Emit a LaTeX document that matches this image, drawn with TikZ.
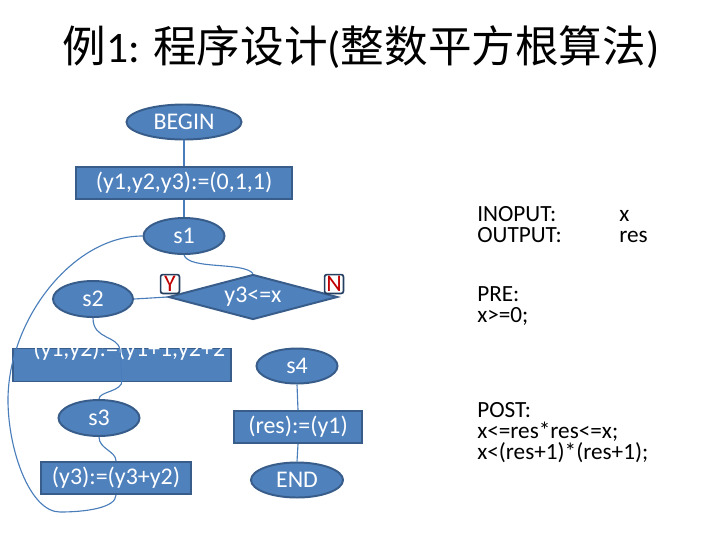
\documentclass[tikz,border=0pt]{standalone}
\usepackage{fontspec}
\setmainfont{Carlito}
\newfontfamily\cjk{Noto Sans CJK SC}
\usepackage{xcolor}
\usepackage{tikz}
\usetikzlibrary{shapes.geometric,positioning}
\definecolor{nodefill}{HTML}{4F81BD}
\definecolor{nodeline}{HTML}{385D8A}
\definecolor{flowline}{HTML}{4A7EBB}
\definecolor{tagline}{HTML}{243F60}
\definecolor{tagred}{HTML}{C00000}
\tikzstyle{term}=[ellipse, draw=nodeline, fill=nodefill, line width=1.4pt,
  text=white, inner sep=0pt]
\tikzstyle{proc}=[rectangle, draw=nodeline, fill=nodefill, line width=1.4pt,
  text=white, inner sep=0pt, minimum height=0.8cm]
\tikzstyle{cond}=[diamond, draw=nodeline, fill=nodefill, line width=1.4pt,
  text=white, inner sep=0pt, aspect=3.75]
\tikzstyle{flow}=[draw=flowline, line width=0.8pt]

\begin{document}
\begin{tikzpicture}[
  x=0.025cm, y=-0.025cm, font=\fontsize{17}{20}\selectfont,
  state/.style={term, minimum width=2.025cm, minimum height=0.9cm},
  tag/.style={draw=tagline, fill=white, rounded corners=1.5pt, line width=1.2pt,
              text=tagred, minimum size=0.47cm, inner sep=0pt},
  note/.style={anchor=base west, inner sep=0pt, text=black, align=left,
               font=\fontsize{16.5}{14.9}\selectfont}]
\useasboundingbox (0,0) rectangle (720,540);
\node[font=\fontsize{31}{36}\selectfont] (title) at (361,47)
  {{\cjk 例}1: {\cjk 程序设计}({\cjk 整数平方根算法})};
% flow chart
\node[term, minimum width=2.875cm, minimum height=0.875cm] (begin) at (184,122) {BEGIN};
\node[proc, minimum width=5.4cm] (init) at (184,183) {(y1,y2,y3):=(0,1,1)};
\node[state] (s1) at (184,236) {s1};
\node[cond, minimum width=4.225cm, minimum height=1.125cm] (test) at (253,297) {y3<=x};
\node[state, minimum width=2cm] (s2) at (93,299) {s2};
\node[tag] (yes) at (170,284) {Y};
\node[tag] (no)  at (334,284) {N};
\node[proc, minimum width=5.45cm, minimum height=0.825cm] (incr) at (122,365) {};
\begin{scope}
  \clip (incr.north west) rectangle (incr.south east);
  \node[anchor=base west, inner sep=0pt, text=white] (incrtext) at (33,356)
    {(y1,y2):=(y1+1,y2+2};
\end{scope}
\node[state, minimum height=0.875cm] (s4) at (297,366) {s4};
\node[state] (s3) at (99,418) {s3};
\node[proc, minimum width=3.2cm] (assign) at (298,427) {(res):=(y1)};
\node[proc, minimum width=3.75cm] (upd) at (116,478) {(y3):=(y3+y2)};
\node[term, minimum width=2.3cm, minimum height=0.875cm] (end) at (297,480) {END};
\coordinate (via1) at (120,350);
\coordinate (via2) at (122,380);
\coordinate (loopa) at (60,512);
\coordinate (loopb) at (8,400);
\draw[flow] (begin) -- (init);
\draw[flow] (init) -- (s1);
\draw[flow] (s1.south) .. controls +(5,15) and +(-10,-12) .. (test.north);
\draw[flow] (test.west) -- (s2.east);
\draw[flow] (s2.south) .. controls +(0,22) and +(-2,-15) .. (via1) -- (via2)
            .. controls +(1,12) and +(0,-8) .. (s3.north);
\draw[flow] (s3.south) .. controls +(0,12) and +(0,-10) .. (upd.north);
\draw[flow] (upd.south) .. controls +(0,13) and +(25,0) .. (loopa)
            .. controls +(-30,0) and +(0,50) .. (loopb)
            .. controls +(0,-80) and +(-70,0) .. (s1.west);
\draw[flow] (s4.south) -- (assign.north);
\draw[flow] (assign.south) -- (end.north);
% pre / post conditions
\node[note] (inlbl)  at (477,242) {INOPUT:\\OUTPUT:};
\node[note] (inval)  at (619,242) {x\\res};
\node[note] (pre)    at (477,322) {PRE:\\x>=0;};
\node[note] (post)   at (477,459) {POST:\\x<=res*res<=x;\\x<(res+1)*(res+1);};
\end{tikzpicture}
\end{document}
